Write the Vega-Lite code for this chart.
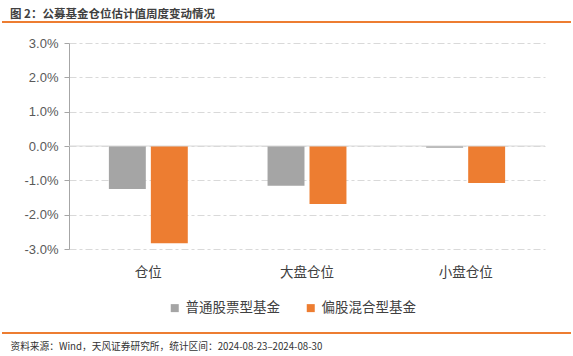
{
  "$schema": "https://vega.github.io/schema/vega-lite/v6.json",
  "width": 476,
  "height": 206,
  "autosize": "none",
  "padding": {"left": 69, "top": 43, "right": 28, "bottom": 107},
  "background": "white",
  "title": {
    "text": "图 2：公募基金仓位估计值周度变动情况",
    "anchor": "start",
    "frame": "group",
    "dx": -59,
    "dy": 5,
    "offset": 6,
    "font": "Noto Sans CJK SC",
    "fontSize": 11.5,
    "fontWeight": "bold",
    "color": "#404040"
  },
  "config": {
    "view": {"stroke": null},
    "font": "Noto Sans CJK SC",
    "axisY": {"labelOverlap": false}
  },
  "layer": [
    {
      "data": {
        "values": [
          {"cat": "仓位", "type": "普通股票型基金", "v": -0.0125},
          {"cat": "仓位", "type": "偏股混合型基金", "v": -0.0283},
          {"cat": "大盘仓位", "type": "普通股票型基金", "v": -0.0116},
          {"cat": "大盘仓位", "type": "偏股混合型基金", "v": -0.0169},
          {"cat": "小盘仓位", "type": "普通股票型基金", "v": -0.0005},
          {"cat": "小盘仓位", "type": "偏股混合型基金", "v": -0.0108}
        ]
      },
      "mark": {"type": "bar"},
      "encoding": {
        "x": {
          "field": "cat",
          "type": "nominal",
          "sort": ["仓位", "大盘仓位", "小盘仓位"],
          "scale": {"paddingInner": 0, "paddingOuter": 0},
          "axis": {
            "labelAngle": 0,
            "domain": false,
            "ticks": false,
            "labelPadding": 16,
            "labelFontSize": 13.5,
            "labelColor": "#404040",
            "labelFont": "Noto Sans CJK SC",
            "title": "资料来源：Wind，天风证券研究所，统计区间：2024-08-23–2024-08-30",
            "titleX": -59,
            "titleY": 97,
            "titleAlign": "left",
            "titleAnchor": "start",
            "titleBaseline": "middle",
            "titleFontSize": 9.7,
            "titleFontWeight": "normal",
            "titleColor": "#333333",
            "titleFont": "Noto Sans CJK SC"
          }
        },
        "xOffset": {
          "field": "type",
          "type": "nominal",
          "sort": ["普通股票型基金", "偏股混合型基金"],
          "scale": {"paddingInner": 0.12, "paddingOuter": 0.95}
        },
        "y": {
          "field": "v",
          "type": "quantitative",
          "scale": {"domain": [-0.03, 0.03], "nice": false, "zero": false},
          "axis": {
            "title": null,
            "values": [-0.03, -0.02, -0.01, 0, 0.01, 0.02, 0.03],
            "tickCount": 12,
            "format": ".1%",
            "labelExpr": "replace(datum.label, '−', '-')",
            "labelOverlap": false,
            "labelFont": "Liberation Sans",
            "labelFontSize": 13,
            "labelColor": "#595959",
            "labelPadding": 6,
            "domain": true,
            "domainColor": "#A6A6A6",
            "domainWidth": 1,
            "ticks": true,
            "tickSize": 5,
            "tickColor": "#A6A6A6",
            "grid": true,
            "gridColor": "#D9D9D9",
            "gridDash": [7, 3, 3, 3],
            "gridWidth": 1
          }
        },
        "color": {
          "field": "type",
          "type": "nominal",
          "sort": ["普通股票型基金", "偏股混合型基金"],
          "scale": {"domain": ["普通股票型基金", "偏股混合型基金"], "range": ["#A5A5A5", "#ED7D31"]},
          "legend": {
            "title": null,
            "orient": "none",
            "direction": "horizontal",
            "legendX": 99,
            "legendY": 258,
            "symbolType": "square",
            "symbolSize": 64,
            "symbolStrokeWidth": 0,
            "labelFontSize": 13.5,
            "labelColor": "#404040",
            "labelFont": "Noto Sans CJK SC",
            "labelOffset": 4,
            "columnPadding": 24
          }
        }
      }
    },
    {
      "data": {"values": [{"z": 0}]},
      "mark": {"type": "rule", "color": "#D9D9D9", "strokeWidth": 1.2},
      "encoding": {"y": {"datum": 0}}
    },
    {
      "data": {"values": [{"p": "top"}]},
      "mark": {"type": "rule", "color": "#ED7D31", "strokeWidth": 2},
      "encoding": {"x": {"value": -67}, "x2": {"value": 502}, "y": {"value": -21}}
    },
    {
      "data": {"values": [{"p": "bottom"}]},
      "mark": {"type": "rule", "color": "#ED7D31", "strokeWidth": 2},
      "encoding": {"x": {"value": -67}, "x2": {"value": 502}, "y": {"value": 290}}
    }
  ]
}
